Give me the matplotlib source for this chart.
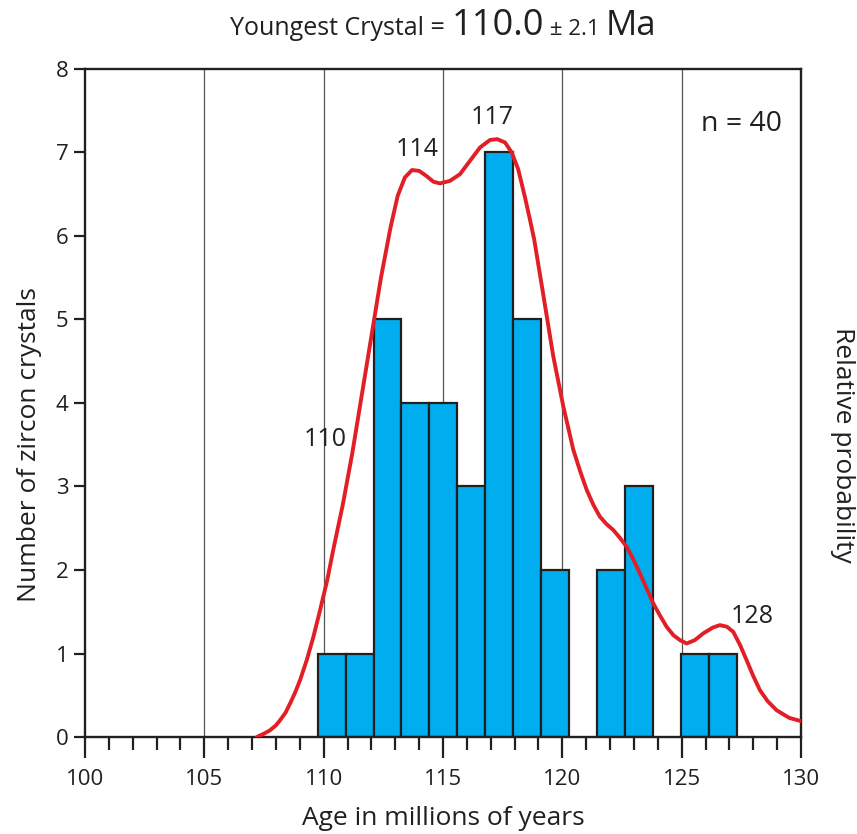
import matplotlib
matplotlib.use("Agg")
import matplotlib.pyplot as plt
from matplotlib.ticker import MultipleLocator

plt.rcParams['font.family'] = ['Open Sans', 'DejaVu Sans']

# histogram bins (Ma) and counts
bin_edges = [109.75, 110.92, 112.09, 113.25, 114.42, 115.59, 116.77, 117.94,
             119.11, 120.28, 121.45, 122.62, 123.80, 124.97, 126.14, 127.31]
counts = [1, 1, 5, 4, 4, 3, 7, 5, 2, 0, 2, 3, 0, 1, 1]

# relative probability curve (same y scale as counts)
curve_age = [107.2, 107.5, 107.75, 108.0, 108.17, 108.4, 108.59, 108.8, 109.01,
             109.29, 109.57, 109.85, 110.15, 110.4, 110.8, 111.2, 111.6,
             112.0, 112.4, 112.8, 113.1, 113.4, 113.7, 114.0, 114.3, 114.6,
             114.87, 115.29, 115.71, 116.13, 116.55, 116.97, 117.27, 117.60,
             117.88, 118.15, 118.43, 118.64, 118.82, 119.2, 119.62, 120.04,
             120.46, 120.75, 121.02, 121.3, 121.57, 121.85, 122.13, 122.4,
             122.69, 122.97, 123.25, 123.53, 123.81, 124.1, 124.37, 124.65,
             124.93, 125.21, 125.55, 125.90, 126.3, 126.6, 126.9, 127.16,
             127.45, 127.72, 128.0, 128.28, 128.6, 128.98, 129.5, 130.0]
curve_val = [0.0, 0.04, 0.08, 0.14, 0.2, 0.29, 0.40, 0.53, 0.68,
             0.92, 1.20, 1.52, 1.88, 2.24, 2.78, 3.40, 4.10,
             4.80, 5.50, 6.10, 6.48, 6.70, 6.79, 6.78, 6.72, 6.65,
             6.63, 6.66, 6.74, 6.90, 7.06, 7.15, 7.16, 7.12,
             7.00, 6.80, 6.47, 6.20, 5.96, 5.30, 4.56, 3.96,
             3.44, 3.18, 2.96, 2.78, 2.64, 2.55, 2.48, 2.39,
             2.28, 2.13, 1.96, 1.78, 1.60, 1.45, 1.32, 1.22,
             1.16, 1.12, 1.16, 1.24, 1.31, 1.34, 1.32, 1.26,
             1.10, 0.92, 0.73, 0.56, 0.43, 0.32, 0.23, 0.19]

peak_labels = ["110", "114", "117", "128"]
peak_pos = [(110.07, 3.56), (113.91, 7.04), (117.05, 7.42), (127.94, 1.44)]

dark = '#231f20'
fig = plt.figure(figsize=(8.57, 8.34), dpi=100)
ax = fig.add_axes([85 / 857, 1 - 737 / 834, 716 / 857, 668 / 834])

lefts = bin_edges[:-1]
widths = [b - a for a, b in zip(bin_edges[:-1], bin_edges[1:])]
bl = [l for l, c in zip(lefts, counts) if c > 0]
bw = [w for w, c in zip(widths, counts) if c > 0]
bh = [c for c in counts if c > 0]
ax.bar(bl, bh, width=bw, align='edge', color='#00aeef', edgecolor=dark,
       linewidth=1.6, zorder=2)

ax.plot(curve_age, curve_val, color='#e21f26', linewidth=2.8, zorder=3,
        solid_capstyle='round', solid_joinstyle='round')

for x in [105, 110, 115, 120, 125]:
    ax.axvline(x, color='#555555', linewidth=0.9, zorder=1)

ax.set_xlim(100, 130)
ax.set_ylim(0, 8)
ax.xaxis.set_major_locator(MultipleLocator(5))
ax.xaxis.set_minor_locator(MultipleLocator(1))
ax.yaxis.set_major_locator(MultipleLocator(1))
ax.tick_params(axis='x', which='major', direction='out', length=15, width=1.6,
               color=dark, labelsize=16, labelcolor=dark, pad=8)
ax.tick_params(axis='x', which='minor', direction='out', length=9, width=1.6,
               color=dark)
ax.tick_params(axis='y', direction='out', length=8, width=1.6, color=dark,
               labelsize=16, labelcolor=dark, pad=4)
for s in ax.spines.values():
    s.set_linewidth(1.7)
    s.set_color(dark)

for lab, (x, y) in zip(peak_labels, peak_pos):
    ax.text(x, y, lab, fontsize=18, color=dark, ha='center', va='center')
ax.text(127.52, 7.34, "n = 40", fontsize=20.5, color=dark, ha='center', va='center')

fig.text(443 / 857, 1 - 825 / 834, "Age in millions of years", fontsize=19,
         color=dark, ha='center', va='baseline')
fig.text(30 / 857, 1 - 445 / 834, "Number of zircon crystals", fontsize=19,
         color=dark, ha='center', va='center', rotation=90)
fig.text(842 / 857, 1 - 445 / 834, "Relative probability", fontsize=19,
         color=dark, ha='center', va='center', rotation=270)

# title with mixed sizes, centred over the axes
pieces = [("Youngest Crystal = ", 18), ("110.0", 26), (" \u00b1 2.1 ", 16), ("Ma", 25)]
fig.canvas.draw()
r = fig.canvas.get_renderer()
texts = []
x = 0.0
for s, fs in pieces:
    t = fig.text(x, 1 - 35 / 834, s, fontsize=fs, color=dark, va='baseline')
    w = t.get_window_extent(r).width / fig.bbox.width
    texts.append((t, x))
    x += w
start = 443 / 857 - x / 2
for t, x0 in texts:
    t.set_x(start + x0)

fig.savefig("out.png", dpi=100)
